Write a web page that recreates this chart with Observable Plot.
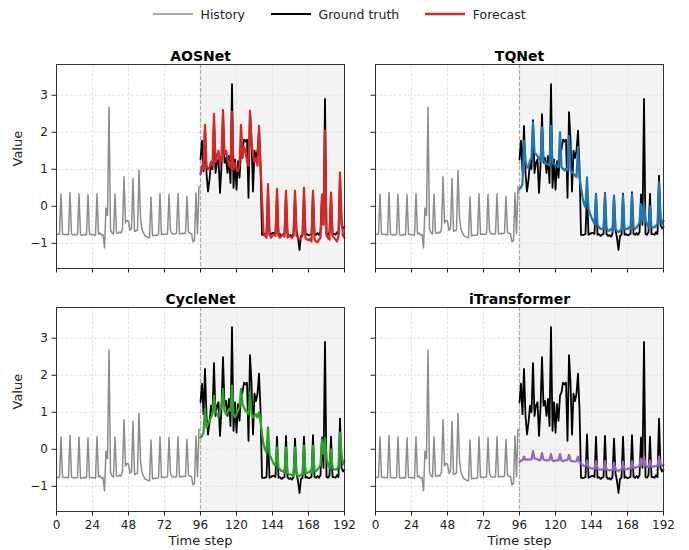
<!DOCTYPE html>
<html>
<head>
<meta charset="utf-8">
<script src="https://cdn.jsdelivr.net/npm/d3@7"></script>
<script src="https://cdn.jsdelivr.net/npm/@observablehq/plot@0.6"></script>
<style>
  html, body { margin: 0; padding: 0; background: #fff; }
  #chart { position: relative; width: 689px; height: 550px; background: #fff; font-family: "DejaVu Sans", sans-serif; overflow: hidden; }
  #chart > div.panel { position: absolute; }
  #legend { position: absolute; top: 0; left: 153px; height: 28px; display: flex; align-items: center; font-size: 12.5px; color: #222; white-space: nowrap; }
  #legend .item { display: flex; align-items: center; }
  #legend svg { display: block; }
  #legend span { margin-left: 7.5px; margin-right: 26px; }
</style>
</head>
<body>
<div id="chart">
  <div id="legend"></div>
</div>
<script>
// ---------------- data ----------------
const historyLength = 96;
const horizonEnd = 192;

// history t = 0..95
const history = [
  -0.75, -0.76, -0.75, 0.33, -0.75, -0.76, -0.76, -0.76, -0.77, 0.37, -0.75, -0.77,
  -0.76, -0.78, -0.76, 0.33, -0.77, -0.78, -0.77, -0.76, -0.77, 0.31, -0.76, -0.76,
  -0.77, -0.77, -0.78, 0.34, -0.75, -0.72, -0.78, -0.76, -1.12, -0.05, -0.25, 2.68,
  -0.62, -0.72, -0.75, 0.33, -0.72, -0.73, -0.7, -0.72, -0.6, 0.8, -0.45, -0.38,
  -0.4, -0.65, -0.6, 0.75, -0.68, -0.66, -0.64, 0.97, -0.3, -0.62, -0.72, -0.8,
  -0.82, -0.84, -0.85, 0.25, -0.8, -0.78, -0.79, -0.78, -0.77, 0.34, -0.76, -0.75,
  -0.76, -0.75, -0.74, 0.32, -0.66, -0.74, -0.75, -0.75, -0.74, 0.34, -0.75, -0.74,
  -0.73, -0.74, -0.72, 0.27, -0.7, -0.73, -0.74, -0.96, -0.92, 0.36, -0.74, 0.54
];

// ground truth t = 96..192
const truth = [
  1.27, 1.77, 0.95, 2.17, 0.9, 0.4, 0.72, 1.18, 1.0, 2.33, 0.9, 1.18,
  1.27, 0.36, 1.1, 2.49, 1.18, 1.31, 0.9, 1.36, 0.63, 3.3, 0.5, 1.27,
  0.45, 1.22, 0.77, 1.45, 1.54, 1.8, 1.75, 1.8, 0.23, 2.54, 1.8, 0.4,
  1.5, 1.3, 1.5, 2.04, 1.09, -0.77, -0.77, -0.77, -0.75, 0.4, -0.77, -0.75,
  -0.72, -0.72, -0.75, 0.34, -0.77, -0.75, -0.8, -0.77, -0.75, 0.36, -0.75, -0.8,
  -0.78, -0.82, -0.75, 0.29, -0.65, -0.85, -1.18, -0.8, -0.77, 0.34, -0.77, -0.75,
  -0.78, -0.77, -0.75, 0.38, -0.75, -0.77, -0.72, -0.77, -0.7, 0.32, -0.5, 2.9,
  -0.75, -0.77, -0.7, 0.34, -0.75, -0.75, -0.77, -0.7, -0.75, 0.83, -0.5, -0.6,
  -0.55
];

// forecasts t = 96..192
const aosnet = [
  0.87, 1.1, 1.0, 2.2, 1.1, 1.0, 1.05, 1.2, 1.1, 2.5, 1.2, 1.35,
  1.5, 1.1, 1.35, 2.6, 1.4, 1.5, 1.3, 1.1, 1.05, 2.55, 1.0, 1.15,
  1.0, 0.95, 1.1, 2.2, 1.3, 1.6, 1.5, 1.2, 1.1, 2.58, 1.7, 1.4,
  1.2, 1.3, 1.1, 2.17, 1.1, 0.2, -0.7, -0.8, -0.85, 0.6, -0.75, -0.85,
  -0.8, -0.75, -0.8, 0.47, -0.8, -0.85, -0.8, -0.75, -0.82, 0.42, -0.85, -0.8,
  -0.82, -0.85, -0.8, 0.42, -0.8, -0.85, -0.9, -0.85, -0.8, 0.5, -0.85, -0.9,
  -0.92, -0.88, -0.95, 0.42, -0.9, -0.95, -0.97, -0.9, -0.85, 0.3, -0.5, 2.04,
  -0.8, -0.85, -0.9, 0.37, -0.8, -0.85, -0.9, -0.95, -0.8, 0.92, -0.3, -0.8,
  -0.85
];

const tqnet = [
  0.47, 0.51, 0.6, 1.77, 1.23, 1.05, 1.05, 1.23, 1.32, 2.26, 1.45, 1.41,
  1.36, 1.28, 1.23, 2.13, 1.23, 1.19, 1.14, 1.14, 1.1, 2.17, 1.19, 1.14,
  1.1, 1.1, 1.05, 2.0, 1.05, 1.01, 0.97, 1.01, 0.97, 1.9, 0.97, 0.92,
  0.88, 0.83, 0.79, 1.6, 0.78, 0.51, 0.24, 0.06, -0.03, 0.78, -0.07, -0.2,
  -0.3, -0.39, -0.48, 0.33, -0.48, -0.57, -0.61, -0.61, -0.61, 0.33, -0.57, -0.66,
  -0.66, -0.61, -0.66, 0.29, -0.61, -0.66, -0.7, -0.66, -0.61, 0.29, -0.61, -0.61,
  -0.61, -0.57, -0.61, 0.33, -0.57, -0.61, -0.57, -0.52, -0.43, 0.06, -0.39, 0.1,
  -0.39, -0.48, -0.57, 0.0, -0.57, -0.57, -0.57, -0.52, -0.48, 0.65, -0.21, -0.48,
  -0.39
];

const cyclenet = [
  0.32, 0.36, 0.45, 1.09, 0.59, 0.68, 0.77, 0.86, 0.95, 1.45, 1.04, 0.95,
  0.86, 1.04, 1.13, 1.63, 1.04, 0.95, 1.0, 1.09, 1.04, 1.72, 0.95, 0.86,
  0.95, 1.04, 1.13, 1.63, 1.22, 1.13, 1.04, 1.0, 0.95, 1.54, 0.95, 0.86,
  0.9, 0.95, 0.86, 1.0, 0.77, 0.41, 0.14, 0.0, -0.09, 0.59, -0.14, -0.23,
  -0.32, -0.41, -0.45, 0.05, -0.5, -0.54, -0.59, -0.59, -0.63, 0.05, -0.63, -0.68,
  -0.68, -0.7, -0.72, 0.05, -0.68, -0.72, -0.72, -0.68, -0.68, 0.09, -0.63, -0.63,
  -0.63, -0.59, -0.63, 0.09, -0.59, -0.59, -0.54, -0.5, -0.41, 0.27, -0.14, 0.3,
  -0.23, -0.41, -0.5, 0.0, -0.5, -0.54, -0.54, -0.54, -0.45, 0.45, -0.14, -0.41,
  -0.32
];

const itransformer = [
  -0.35, -0.3, -0.3, -0.2, -0.28, -0.28, -0.27, -0.28, -0.27, -0.05, -0.25, -0.26,
  -0.27, -0.3, -0.28, -0.1, -0.28, -0.29, -0.3, -0.3, -0.29, -0.13, -0.3, -0.32,
  -0.3, -0.3, -0.3, -0.13, -0.3, -0.32, -0.3, -0.3, -0.29, -0.15, -0.3, -0.32,
  -0.33, -0.33, -0.32, -0.2, -0.35, -0.38, -0.42, -0.45, -0.45, -0.3, -0.48, -0.5,
  -0.52, -0.52, -0.52, -0.32, -0.52, -0.55, -0.55, -0.55, -0.55, -0.32, -0.55, -0.56,
  -0.57, -0.56, -0.56, -0.36, -0.55, -0.57, -0.58, -0.56, -0.55, -0.33, -0.55, -0.55,
  -0.53, -0.52, -0.52, -0.32, -0.5, -0.5, -0.48, -0.47, -0.45, -0.25, -0.4, -0.2,
  -0.42, -0.47, -0.48, -0.3, -0.47, -0.47, -0.46, -0.45, -0.44, -0.2, -0.38, -0.45,
  -0.42
];

const models = ["AOSNet", "TQNet", "CycleNet", "iTransformer"];
const forecasts = [aosnet, tqnet, cyclenet, itransformer];
const modelColors = ["#d62728", "#1f77b4", "#2ca02c", "#9467bd"];

const xTicks = [0, 24, 48, 72, 96, 120, 144, 168, 192];
const yTicks = [-1, 0, 1, 2, 3];
const xDomain = [0, 192];
const yDomain = [-1.68, 3.83];
const xLabel = "Time step";
const yLabel = "Value";

const legendItems = ["History", "Ground truth", "Forecast"];
const legendColors = ["#8c8c8c", "#000000", "#d62728"];
const legendWidths = [1.5, 2, 2.5];

// ---------------- drawing ----------------
const histData = history.map((v, i) => ({t: i, v}));
const truthData = truth.map((v, i) => ({t: historyLength + i, v}));

const PW = 288, PH = 204, MT = 34;

function panel(k, col, row) {
  const showY = col === 0, showX = row === 1;
  const marginLeft = showY ? 56 : 10;
  const marginRight = 8;
  const marginBottom = showX ? 40 : 10;
  const fc = forecasts[k].map((v, i) => ({t: historyLength + i, v}));
  const marks = [
    Plot.rect([{a: historyLength, b: horizonEnd}], {x1: "a", x2: "b", fill: "#f3f3f3"}),
    Plot.gridX(xTicks, {stroke: "#e3e3e3", strokeOpacity: 1, strokeDasharray: "3,1.7"}),
    Plot.gridY(yTicks, {stroke: "#e3e3e3", strokeOpacity: 1, strokeDasharray: "3,1.7"}),
    Plot.ruleX([historyLength], {stroke: "#aaaaaa", strokeWidth: 1.2, strokeDasharray: "4,2"}),
    Plot.line(histData, {x: "t", y: "v", stroke: "#8c8c8c", strokeWidth: 1.5}),
    Plot.line(truthData, {x: "t", y: "v", stroke: "#000", strokeWidth: 1.8}),
    Plot.line(fc, {x: "t", y: "v", stroke: modelColors[k], strokeWidth: 2.2}),
    Plot.frame({stroke: "#333", strokeWidth: 1}),
    Plot.axisX(xTicks, {
      tickSize: 4.5, tickPadding: 4, label: null,
      tickFormat: showX ? (d => String(d)) : (() => "")
    }),
    Plot.axisY(yTicks, {
      tickSize: 4.5, tickPadding: 4, label: null,
      tickFormat: showY ? (d => d < 0 ? "\u2212" + Math.abs(d) : String(d)) : (() => "")
    }),
    Plot.text([models[k]], {frameAnchor: "top", dy: -13, fontWeight: "bold", fontSize: 14, fill: "#000"})
  ];
  if (showX) marks.push(Plot.text([xLabel], {frameAnchor: "bottom", dy: 33.5, fontSize: 13, fill: "#222"}));
  if (showY) marks.push(Plot.text([yLabel], {frameAnchor: "left", dx: -39, rotate: -90, fontSize: 13, fill: "#222"}));
  const svg = Plot.plot({
    width: marginLeft + PW + marginRight,
    height: MT + PH + marginBottom,
    marginLeft, marginRight, marginTop: MT, marginBottom,
    x: {domain: xDomain},
    y: {domain: yDomain},
    style: {fontFamily: "DejaVu Sans", fontSize: "12px", color: "#222", background: "transparent", overflow: "visible"},
    marks
  });
  const div = document.createElement("div");
  div.className = "panel";
  const left = (col === 0 ? 56 : 375) - marginLeft;
  const top = (row === 0 ? 64.3 : 307.3) - MT;
  div.style.left = left + "px";
  div.style.top = top + "px";
  div.appendChild(svg);
  document.getElementById("chart").appendChild(div);
}

panel(0, 0, 0);
panel(1, 1, 0);
panel(2, 0, 1);
panel(3, 1, 1);

// legend
const legend = document.getElementById("legend");
legendItems.forEach((name, i) => {
  const item = document.createElement("div");
  item.className = "item";
  item.innerHTML = `<svg width="40" height="10"><line x1="0" x2="40" y1="5" y2="5" stroke="${legendColors[i]}" stroke-width="${legendWidths[i]}"/></svg><span>${name}</span>`;
  legend.appendChild(item);
});
</script>
</body>
</html>
